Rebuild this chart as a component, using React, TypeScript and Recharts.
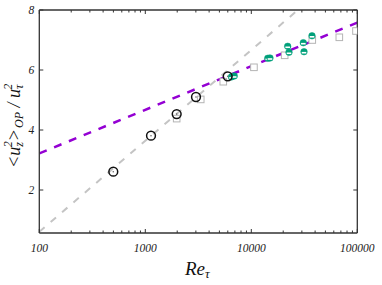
import React from 'react'
import { ComposedChart, Scatter, Line, XAxis, YAxis, Label } from 'recharts'

// circles (black, open)
const circleRe = [499, 1132, 1977, 3008, 5990]
const circleVal = [2.61, 3.81, 4.53, 5.1, 5.79]

// squares (gray, open)
const squareRe = [1977, 3333, 5440, 10590, 20650, 37600, 67660, 97200]
const squareVal = [4.38, 5.02, 5.61, 6.09, 6.49, 7.0, 7.09, 7.3]

// teal circles
const tealRe = [6500, 6900, 14300, 15000, 22040, 22680, 30960, 31420, 37380]
const tealVal = [5.77, 5.8, 6.39, 6.4, 6.79, 6.59, 6.91, 6.61, 7.14]

// fit lines
const purpleRe = [100, 100000]
const purpleVal = [3.22, 7.58]
const grayRe = [100, 27500]
const grayVal = [0.61, 8.0]

const xTicks = [100, 1000, 10000, 100000]
const yTicks = [2, 4, 6, 8]

const toRows = (xs: number[], ys: number[]) => xs.map((x, i) => ({ x, y: ys[i] }))

const minorTicks: number[] = []
for (let d = 100; d < 100000; d *= 10) {
  for (let k = 1; k < 10; k++) minorTicks.push(d * k)
}
minorTicks.push(100000)

const serif = { fontFamily: "'Liberation Serif', 'DejaVu Serif', serif", fontStyle: 'italic' as const }
const AXIS = '#333'

const isMajor = (v: number) => xTicks.includes(v)

const BottomTick = (props: any) => {
  const { x, y, payload } = props
  const len = isMajor(payload.value) ? 4 : 2.5
  return (
    <g>
      <line x1={x} x2={x} y1={y} y2={y - len} stroke={AXIS} strokeWidth={1} />
      {isMajor(payload.value) && (
        <text x={x} y={y + 19} textAnchor="middle" style={serif} fontSize={11.5} fill="#222">
          {payload.value}
        </text>
      )}
    </g>
  )
}

const TopTick = (props: any) => {
  const { x, y, payload } = props
  const len = isMajor(payload.value) ? 4 : 2.5
  return <line x1={x} x2={x} y1={y} y2={y + len} stroke={AXIS} strokeWidth={1} />
}

const LeftTick = (props: any) => {
  const { x, y, payload } = props
  return (
    <g>
      <line x1={x} x2={x + 4} y1={y} y2={y} stroke={AXIS} strokeWidth={1} />
      <text x={x - 5} y={y + 4} textAnchor="end" style={serif} fontSize={11.5} fill="#222">
        {payload.value}
      </text>
    </g>
  )
}

const RightTick = (props: any) => {
  const { x, y } = props
  return <line x1={x} x2={x - 4} y1={y} y2={y} stroke={AXIS} strokeWidth={1} />
}

const OpenCircle = (props: any) => {
  const { cx, cy } = props
  return (
    <g>
      <circle cx={cx} cy={cy} r={4.4} fill="none" stroke="#111" strokeWidth={1.5} />
      <circle cx={cx} cy={cy} r={0.8} fill="#666" />
    </g>
  )
}

const OpenSquare = (props: any) => {
  const { cx, cy } = props
  return <rect x={cx - 3.3} y={cy - 3.3} width={6.6} height={6.6} fill="#fff" stroke="#b4b4b4" strokeWidth={1} />
}

const TealDot = (props: any) => {
  const { cx, cy } = props
  return (
    <g>
      <circle cx={cx} cy={cy} r={3.3} fill="#00a07a" stroke="#00a07a" strokeWidth={0.5} />
      <rect x={cx - 2.3} y={cy + 0.2} width={4.6} height={1.6} fill="#fff" />
    </g>
  )
}

const YTitle = () => (
  <text transform="translate(20,168) rotate(-90)" style={serif} fontSize={18} fill="#111">
    <tspan>&lt;u</tspan>
    <tspan fontSize={12} dy={3}>z</tspan>
    <tspan fontSize={12} dx={-5} dy={-11}>2</tspan>
    <tspan dy={8}>&gt;</tspan>
    <tspan fontSize={12} dx={1} dy={3}>OP</tspan>
    <tspan dy={-3}> / u</tspan>
    <tspan fontSize={12} dy={3}>τ</tspan>
    <tspan fontSize={12} dx={-5} dy={-11}>2</tspan>
  </text>
)

const XTitle = () => (
  <text x={185} y={275} style={serif} fontSize={19} fill="#111">
    <tspan>Re</tspan>
    <tspan fontSize={13} dy={3}>τ</tspan>
  </text>
)

export default function App() {
  return (
    <div style={{ position: 'absolute', left: 0, top: 0, background: '#fff' }}>
      <ComposedChart width={382} height={285} margin={{ top: 9, right: 23.7, bottom: 32, left: 19.3 }}>
        <XAxis
          xAxisId="b"
          dataKey="x"
          type="number"
          scale="log"
          domain={[100, 100000]}
          allowDataOverflow
          ticks={minorTicks}
          interval={0}
          height={20}
          tickSize={0}
          tickMargin={0}
          tickLine={false}
          tick={BottomTick}
          axisLine={{ stroke: AXIS, strokeWidth: 1.3 }}
        >
          <Label content={XTitle} />
        </XAxis>
        <XAxis
          xAxisId="t"
          orientation="top"
          dataKey="x"
          type="number"
          scale="log"
          domain={[100, 100000]}
          allowDataOverflow
          ticks={minorTicks}
          interval={0}
          height={1}
          tickSize={0}
          tickMargin={0}
          tickLine={false}
          tick={TopTick}
          axisLine={{ stroke: AXIS, strokeWidth: 1.3 }}
        />
        <YAxis
          yAxisId="l"
          dataKey="y"
          type="number"
          domain={[0.567, 8]}
          allowDataOverflow
          ticks={yTicks}
          interval={0}
          width={20}
          tickSize={0}
          tickMargin={0}
          tickLine={false}
          tick={LeftTick}
          axisLine={{ stroke: AXIS, strokeWidth: 1.3 }}
        >
          <Label content={YTitle} />
        </YAxis>
        <YAxis
          yAxisId="r"
          orientation="right"
          dataKey="y"
          type="number"
          domain={[0.567, 8]}
          allowDataOverflow
          ticks={yTicks}
          interval={0}
          width={1}
          tickSize={0}
          tickMargin={0}
          tickLine={false}
          tick={RightTick}
          axisLine={{ stroke: AXIS, strokeWidth: 1.3 }}
        />
        <Scatter xAxisId="b" yAxisId="l" data={toRows(squareRe, squareVal)} shape={OpenSquare} isAnimationActive={false} />
        <Scatter xAxisId="b" yAxisId="l" data={toRows(tealRe, tealVal)} shape={TealDot} isAnimationActive={false} />
        <Scatter xAxisId="b" yAxisId="l" data={toRows(circleRe, circleVal)} shape={OpenCircle} isAnimationActive={false} />
        <Line
          xAxisId="b"
          yAxisId="l"
          data={toRows(grayRe, grayVal)}
          dataKey="y"
          type="linear"
          stroke="#c4c4c4"
          strokeWidth={2}
          strokeDasharray="7 8"
          dot={false}
          isAnimationActive={false}
        />
        <Line
          xAxisId="b"
          yAxisId="l"
          data={toRows(purpleRe, purpleVal)}
          dataKey="y"
          type="linear"
          stroke="#9400d3"
          strokeWidth={2.5}
          strokeDasharray="8 8"
          dot={false}
          isAnimationActive={false}
        />
      </ComposedChart>
    </div>
  )
}
